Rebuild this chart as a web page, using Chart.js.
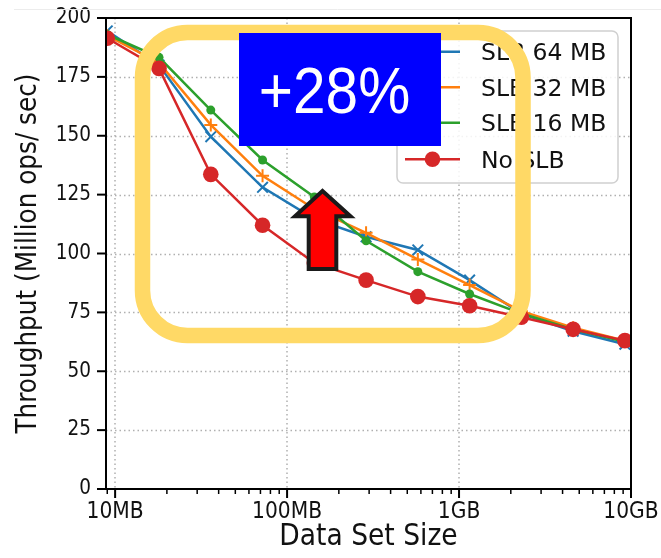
<!DOCTYPE html>
<html><head><meta charset="utf-8">
<script src="https://cdn.jsdelivr.net/npm/chart.js@4.4.1/dist/chart.umd.min.js"></script>
<style>html,body{margin:0;padding:0;background:#fff;}canvas{display:block;}</style>
</head><body>
<canvas id="c" width="661" height="558"></canvas>
<script>
// ---- data ----
const sizesMB = [9, 18, 36, 72, 144, 288, 576, 1152, 2304, 4608, 9216];
const slb64 = [194.5, 180, 149.6, 128.1, 114.7, 107.1, 101.5, 88.7, 74.5, 67, 61.5];
const slb32 = [192.5, 181, 154.6, 133.0, 118.9, 108.8, 97.5, 86.6, 75.5, 68.5, 63];
const slb16 = [193, 183.3, 160.9, 139.7, 124, 105.4, 92.3, 82.8, 74.5, 67.8, 62.5];
const noSlb = [191.4, 178.6, 133.6, 112, 96, 88.7, 81.7, 77.8, 72.9, 67.8, 63];
const seriesLabels = ['SLB 64 MB', 'SLB 32 MB', 'SLB 16 MB', 'No SLB'];
const xMajorTicks = [10, 100, 1000, 10000];
const xTickLabels = ['10MB', '100MB', '1GB', '10GB'];
const xMinorTicks = [9, 20, 30, 40, 50, 60, 70, 80, 90, 200, 300, 400, 500, 600, 700, 800, 900,
                     2000, 3000, 4000, 5000, 6000, 7000, 8000, 9000];
const yTickValues = [0, 25, 50, 75, 100, 125, 150, 175, 200];
const xTitle = 'Data Set Size';
const yTitle = 'Throughput (Million ops/ sec)';
const annotationText = '+28%';

const COND = "'DejaVu Sans Condensed', 'DejaVu Sans'";
const colors = ['#1f77b4', '#ff7f0e', '#2ca02c', '#d62728'];
const seriesValues = [slb64, slb32, slb16, noSlb];
const styles = [
  {pointStyle: 'crossRot', pointRadius: 7.5, pointBorderWidth: 2},
  {pointStyle: 'cross', pointRadius: 6.5, pointBorderWidth: 2},
  {pointStyle: 'circle', pointRadius: 4.5, pointBorderWidth: 0},
  {pointStyle: 'circle', pointRadius: 7.8, pointBorderWidth: 0}
];

const datasets = seriesValues.map((vals, i) => Object.assign({
  label: seriesLabels[i],
  data: sizesMB.map((s, j) => ({x: s, y: vals[j]})),
  borderColor: colors[i],
  backgroundColor: colors[i],
  pointBackgroundColor: colors[i],
  pointBorderColor: colors[i],
  borderWidth: 2.5,
  tension: 0,
  clip: 0,
  order: 4 - i
}, styles[i]));

function roundRectPath(ctx, x, y, w, h, r) {
  ctx.beginPath();
  ctx.moveTo(x + r, y);
  ctx.lineTo(x + w - r, y);
  ctx.arcTo(x + w, y, x + w, y + r, r);
  ctx.lineTo(x + w, y + h - r);
  ctx.arcTo(x + w, y + h, x + w - r, y + h, r);
  ctx.lineTo(x + r, y + h);
  ctx.arcTo(x, y + h, x, y + h - r, r);
  ctx.lineTo(x, y + r);
  ctx.arcTo(x, y, x + r, y, r);
  ctx.closePath();
}

function drawMarker(ctx, style, x, y, r, color) {
  ctx.save();
  ctx.strokeStyle = color; ctx.fillStyle = color; ctx.lineWidth = 2;
  if (style === 'circle') {
    ctx.beginPath(); ctx.arc(x, y, r, 0, Math.PI * 2); ctx.fill();
  } else if (style === 'cross') {
    ctx.beginPath(); ctx.moveTo(x - r, y); ctx.lineTo(x + r, y);
    ctx.moveTo(x, y - r); ctx.lineTo(x, y + r); ctx.stroke();
  } else {
    const d = r * 0.7071;
    ctx.beginPath(); ctx.moveTo(x - d, y - d); ctx.lineTo(x + d, y + d);
    ctx.moveTo(x + d, y - d); ctx.lineTo(x - d, y + d); ctx.stroke();
  }
  ctx.restore();
}

const overlay = {
  id: 'overlay',
  beforeDatasetsDraw(chart) {
    const {ctx, chartArea: a, scales: {x, y}} = chart;
    ctx.save();
    ctx.strokeStyle = '#b0b0b0';
    ctx.lineWidth = 1.5;
    ctx.setLineDash([1.5, 3]);
    yTickValues.slice(1, -1).forEach(v => {
      const py = Math.round(y.getPixelForValue(v)) + 0.5;
      ctx.beginPath(); ctx.moveTo(a.left, py); ctx.lineTo(a.right, py); ctx.stroke();
    });
    xMajorTicks.slice(0, -1).forEach(v => {
      const px = Math.round(x.getPixelForValue(v));
      ctx.beginPath(); ctx.moveTo(px, a.top); ctx.lineTo(px, a.bottom); ctx.stroke();
    });
    ctx.restore();
  },
  afterDatasetsDraw(chart) {
    const {ctx, chartArea: a, scales: {x, y}} = chart;
    ctx.save();
    // faint line at top
    ctx.strokeStyle = '#ececec'; ctx.lineWidth = 1;
    ctx.beginPath(); ctx.moveTo(14, 9.5); ctx.lineTo(661, 9.5); ctx.stroke();
    // spines
    ctx.strokeStyle = '#000'; ctx.lineWidth = 2;
    ctx.strokeRect(a.left, a.top, a.right - a.left, a.bottom - a.top);
    // y ticks
    ctx.lineWidth = 2;
    yTickValues.forEach(v => {
      const py = y.getPixelForValue(v);
      ctx.beginPath(); ctx.moveTo(a.left - 9, py); ctx.lineTo(a.left, py); ctx.stroke();
    });
    // x ticks
    xMajorTicks.forEach(v => {
      const px = x.getPixelForValue(v);
      ctx.beginPath(); ctx.moveTo(px, a.bottom); ctx.lineTo(px, a.bottom + 9); ctx.stroke();
    });
    ctx.lineWidth = 1.5;
    xMinorTicks.forEach(v => {
      const px = x.getPixelForValue(v);
      ctx.beginPath(); ctx.moveTo(px, a.bottom); ctx.lineTo(px, a.bottom + 5); ctx.stroke();
    });

    // legend
    const rows = [51.7, 87.3, 122.7, 159.3];
    roundRectPath(ctx, 397, 31, 221, 152, 6);
    ctx.fillStyle = 'rgba(255,255,255,0.85)'; ctx.fill();
    ctx.strokeStyle = '#d0d0d0'; ctx.lineWidth = 1.5; ctx.stroke();
    chart.data.datasets.forEach((ds, i) => {
      const ry = rows[i];
      ctx.strokeStyle = ds.borderColor; ctx.lineWidth = 2.5;
      ctx.beginPath(); ctx.moveTo(405, ry); ctx.lineTo(460, ry); ctx.stroke();
      drawMarker(ctx, ds.pointStyle, 432.5, ry, ds.pointRadius, ds.borderColor);
      ctx.fillStyle = '#111';
      ctx.font = "23.5px 'DejaVu Sans'";
      ctx.textAlign = 'left'; ctx.textBaseline = 'alphabetic';
      ctx.fillText(ds.label, 481, ry + 8.6);
    });

    // yellow rounded frame
    roundRectPath(ctx, 142.5, 32.5, 380.5, 303, 45);
    ctx.strokeStyle = '#FFD966'; ctx.lineWidth = 15.5; ctx.stroke();

    // blue box with text
    ctx.fillStyle = '#0000ff';
    ctx.fillRect(239, 33, 202, 113);
    ctx.save();
    ctx.translate(334.5, 112.7);
    ctx.scale(0.915, 1);
    ctx.fillStyle = '#ffffff';
    ctx.font = "64px 'Liberation Sans'";
    ctx.textAlign = 'center'; ctx.textBaseline = 'alphabetic';
    ctx.fillText(annotationText, 0, 0);
    ctx.restore();

    // red arrow
    ctx.beginPath();
    ctx.moveTo(322.5, 191);
    ctx.lineTo(350.5, 216.3);
    ctx.lineTo(336.3, 216.3);
    ctx.lineTo(336.3, 269);
    ctx.lineTo(308.7, 269);
    ctx.lineTo(308.7, 216.3);
    ctx.lineTo(295, 216.3);
    ctx.closePath();
    ctx.fillStyle = '#ff0000'; ctx.fill();
    ctx.lineJoin = 'miter'; ctx.lineWidth = 4; ctx.strokeStyle = '#1a1a1a'; ctx.stroke();
    ctx.restore();
  }
};

new Chart(document.getElementById('c'), {
  type: 'line',
  data: {datasets},
  options: {
    responsive: false,
    animation: false,
    devicePixelRatio: 1,
    layout: {padding: {left: 0, right: 30, top: 18, bottom: 0}},
    scales: {
      x: {
        type: 'logarithmic',
        min: 8.85, max: 10000,
        grid: {display: false, drawTicks: false},
        border: {display: false},
        afterBuildTicks: s => { s.ticks = xMajorTicks.map(v => ({value: v})); },
        afterFit: s => { s.height = 69; s.paddingLeft = 0; s.paddingRight = 0; },
        ticks: {
          autoSkip: false, maxRotation: 0, minRotation: 0, padding: 10,
          color: '#111',
          font: {family: COND, size: 22.5},
          callback: v => { const k = xMajorTicks.indexOf(v); return k >= 0 ? xTickLabels[k] : ''; }
        },
        title: {display: true, text: xTitle, color: '#111',
                font: {family: COND, size: 29.5}, padding: {top: 0, bottom: 3}}
      },
      y: {
        min: 0, max: 200,
        grid: {display: false, drawTicks: false},
        border: {display: false},
        afterBuildTicks: s => { s.ticks = yTickValues.map(v => ({value: v})); },
        afterFit: s => { s.width = 106; s.paddingTop = 0; s.paddingBottom = 0; },
        ticks: {padding: 15, color: '#111', font: {family: COND, size: 20.5},
                callback: v => String(v)},
        title: {display: true, text: yTitle, color: '#111',
                font: {family: COND, size: 27.5}, padding: {top: 12, bottom: 0}}
      }
    },
    plugins: {legend: {display: false}, tooltip: {enabled: false}}
  },
  plugins: [overlay]
});
</script>
</body></html>
